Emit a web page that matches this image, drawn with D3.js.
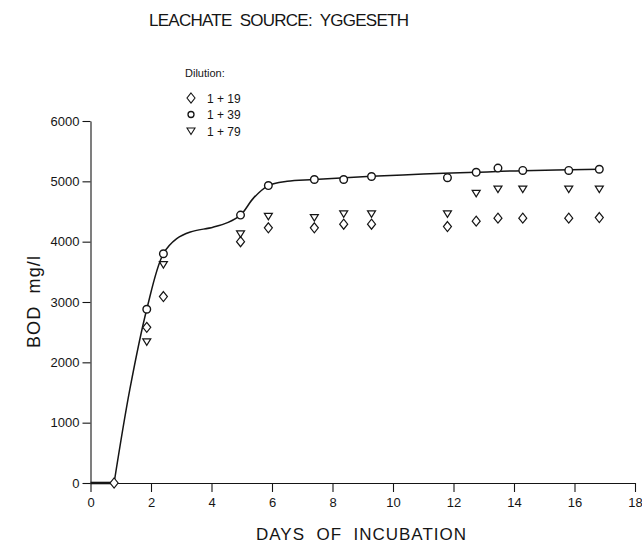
<!DOCTYPE html>
<html>
<head>
<meta charset="utf-8">
<script src="https://cdn.jsdelivr.net/npm/d3@7"></script>
<style>
  body { margin: 0; background: #fff; }
  svg { font-family: "Liberation Sans", "DejaVu Sans", sans-serif; }
</style>
</head>
<body>
<div id="chart"></div>
<script>
// Measured points (days of incubation, BOD mg/l) per dilution
var days     = [0.78, 1.86, 2.41, 4.96, 5.88, 7.40, 8.37, 9.29, 11.80, 12.75, 13.47, 14.29, 15.81, 16.82];
var dil1_19  = [0,    2580, 3090, 4000, 4230, 4230, 4290, 4290, 4250, 4340, 4390, 4390, 4390, 4400];
var dil1_39  = [null, 2880, 3800, 4440, 4930, 5030, 5030, 5080, 5060, 5150, 5220, 5180, 5180, 5200];
var dil1_79  = [null, 2340, 3620, 4130, 4420, 4400, 4460, 4460, 4460, 4800, 4870, 4870, 4870, 4870];

// Hand-drawn fitted curve
var curveDays = [0.78, 1.30, 1.86, 2.41, 2.85, 3.3, 4.05, 4.55, 4.96, 5.40, 5.88, 6.50, 7.40, 9.29, 11.0, 12.75, 14.29, 16.82];
var curveBOD  = [0,    1550, 2880, 3800, 4050, 4160, 4240, 4320, 4440, 4730, 4930, 5000, 5030, 5083, 5120, 5150, 5177, 5199];
var lagDays = [0, 0.78];

var legendLabels = ["1 + 19", "1 + 39", "1 + 79"];
var xTicks = [0, 2, 4, 6, 8, 10, 12, 14, 16, 18];
var yTicks = [0, 1000, 2000, 3000, 4000, 5000, 6000];

var width = 642, height = 548;
var ink = "#151515";

var svg = d3.select("#chart").append("svg")
  .attr("width", width)
  .attr("height", height);

var x = d3.scaleLinear().domain([0, 18]).range([90.5, 635]);
var y = d3.scaleLinear().domain([0, 6000]).range([483, 121]);

// marker shapes
var diamond = function(cx, cy) {
  return "M" + cx + "," + (cy - 5) + "L" + (cx + 4) + "," + cy + "L" + cx + "," + (cy + 5) + "L" + (cx - 4) + "," + cy + "Z";
};
var triangle = function(cx, cy) {
  return "M" + (cx - 4) + "," + (cy - 3) + "L" + (cx + 4) + "," + (cy - 3) + "L" + cx + "," + (cy + 3.5) + "Z";
};

// Axes
var xAxis = svg.append("g")
  .attr("transform", "translate(0," + y(0) + ")")
  .call(d3.axisBottom(x).tickValues(xTicks).tickFormat(d3.format("d"))
    .tickSize(9).tickSizeOuter(0).tickPadding(6));

var yAxis = svg.append("g")
  .attr("transform", "translate(" + x(0) + ",0)")
  .call(d3.axisLeft(y).tickValues(yTicks).tickFormat(d3.format("d"))
    .tickSize(8).tickSizeOuter(0).tickPadding(3));

[xAxis, yAxis].forEach(function(ax) {
  ax.selectAll("path, line").attr("stroke", ink).attr("stroke-width", 1.1);
  ax.selectAll("text").attr("fill", ink).style("font-size", "13px");
});

// Title and axis labels
svg.append("text")
  .attr("x", 149).attr("y", 26)
  .attr("textLength", 260).attr("lengthAdjust", "spacing")
  .style("font-size", "17px").style("white-space", "pre").attr("fill", ink)
  .text("LEACHATE  SOURCE:  YGGESETH");

svg.append("text")
  .attr("x", 256).attr("y", 540)
  .attr("textLength", 210).attr("lengthAdjust", "spacing")
  .style("font-size", "17px").style("white-space", "pre").attr("fill", ink)
  .text("DAYS  OF  INCUBATION");

svg.append("text")
  .attr("transform", "translate(40,348) rotate(-90)")
  .attr("textLength", 92).attr("lengthAdjust", "spacing")
  .style("font-size", "18px").style("white-space", "pre").attr("fill", ink)
  .text("BOD  mg/l");

// Lag segment and fitted curve
svg.append("path")
  .datum(lagDays)
  .attr("d", d3.line().x(function(d) { return x(d); }).y(function() { return y(0); }))
  .attr("stroke", ink).attr("stroke-width", 2.6).attr("fill", "none");

var curvePts = curveDays.map(function(d, i) { return [d, curveBOD[i]]; });
svg.append("path")
  .datum(curvePts)
  .attr("d", d3.line().curve(d3.curveCatmullRom.alpha(0.5))
    .x(function(d) { return x(d[0]); })
    .y(function(d) { return y(d[1]); }))
  .attr("stroke", ink).attr("stroke-width", 1.5).attr("fill", "none");

// Points
var points = function(values) {
  return days.map(function(d, i) { return [d, values[i]]; })
    .filter(function(p) { return p[1] !== null; });
};

svg.append("g").selectAll("path")
  .data(points(dil1_19))
  .enter().append("path")
  .attr("d", function(d) { return diamond(x(d[0]), y(d[1])); })
  .attr("fill", "#fff").attr("stroke", ink).attr("stroke-width", 1.2);

svg.append("g").selectAll("path")
  .data(points(dil1_79))
  .enter().append("path")
  .attr("d", function(d) { return triangle(x(d[0]), y(d[1])); })
  .attr("fill", "none").attr("stroke", ink).attr("stroke-width", 1.2);

svg.append("g").selectAll("circle")
  .data(points(dil1_39))
  .enter().append("circle")
  .attr("cx", function(d) { return x(d[0]); })
  .attr("cy", function(d) { return y(d[1]); })
  .attr("r", 3.8)
  .attr("fill", "#fff").attr("stroke", ink).attr("stroke-width", 1.4);

// Legend
var legend = svg.append("g");
legend.append("text")
  .attr("x", 185).attr("y", 77)
  .style("font-size", "11px").attr("fill", ink)
  .text("Dilution:");

var rowY = [98, 114.5, 131];
legendLabels.forEach(function(label, i) {
  if (i == 0) {
    legend.append("path").attr("d", diamond(191, rowY[i]))
      .attr("fill", "#fff").attr("stroke", ink).attr("stroke-width", 1.1);
  } else if (i == 1) {
    legend.append("circle").attr("cx", 191).attr("cy", rowY[i]).attr("r", 3)
      .attr("fill", "#fff").attr("stroke", ink).attr("stroke-width", 1.3);
  } else {
    legend.append("path").attr("d", triangle(191, rowY[i]))
      .attr("fill", "none").attr("stroke", ink).attr("stroke-width", 1.1);
  }
  legend.append("text")
    .attr("x", 207).attr("y", rowY[i] + 4.5)
    .style("font-size", "12px").attr("fill", ink)
    .text(label);
});
</script>
</body>
</html>
